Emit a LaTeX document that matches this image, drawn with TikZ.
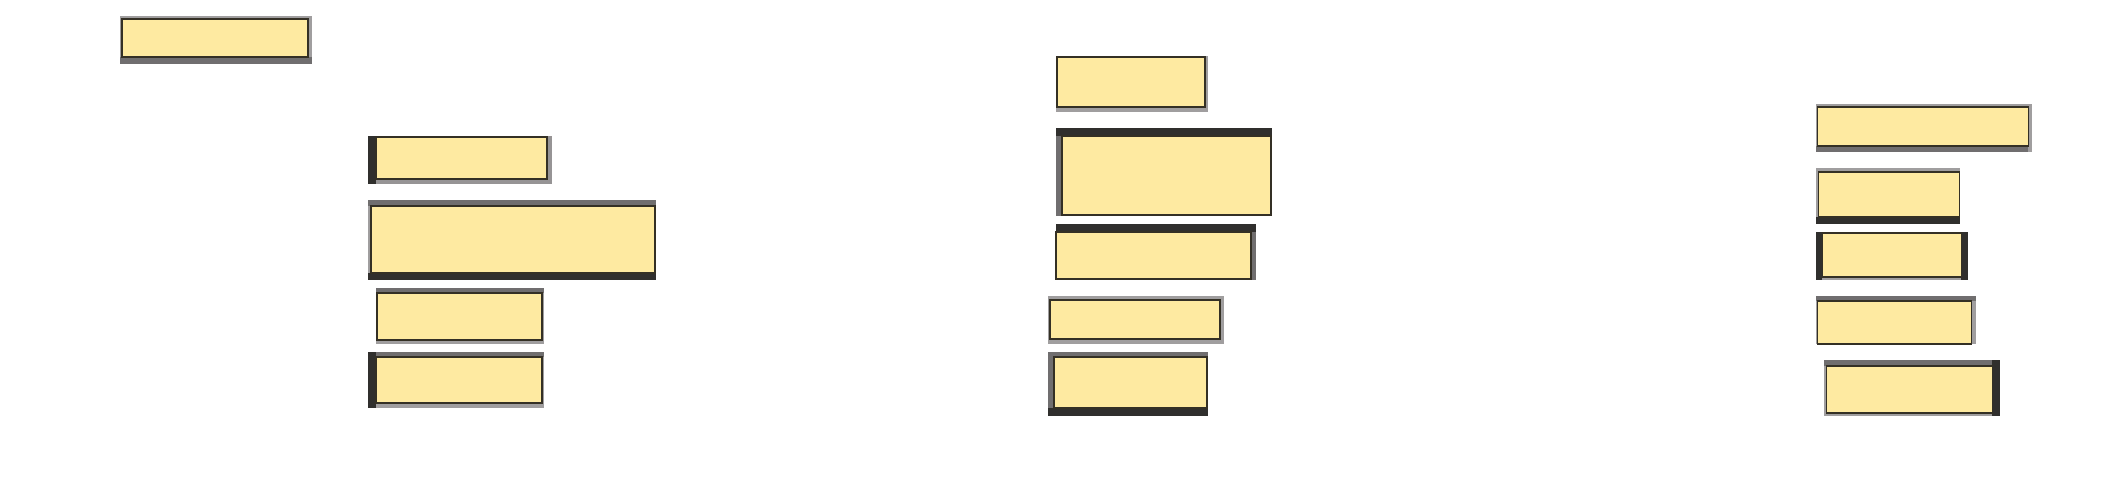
\documentclass[tikz,border=0pt]{standalone}
\usetikzlibrary{fit}
\definecolor{cardfill}{RGB}{255,234,162}
\definecolor{cardline}{RGB}{52,48,38}
\definecolor{rimdark}{RGB}{48,47,46}
\definecolor{rimmid}{RGB}{112,110,110}
\definecolor{rimlight}{RGB}{160,158,158}
\tikzset{
  card/.style={draw=cardline, line width=0.6pt, fill=cardfill, inner sep=0pt},
  dark/.style={fill=rimdark},
  mid/.style={fill=rimmid},
  light/.style={fill=rimlight}
}
\begin{document}
\begin{tikzpicture}[x=0.02cm, y=-0.02cm]
    % --- Canvas ---
    \fill[white] (0,0) rectangle (2118,488);
    \useasboundingbox (0,0) rectangle (2118,488);

    % --- Top left ---
    \fill[light] (120,16) rectangle (312,64);
    \fill[mid] (120,57) rectangle (312,64);
    \node[card, fit={(122,19) (308,57)}] (head) {};

    % --- Left column ---
    % 1
    \fill[rimlight!80!rimmid] (368,136) rectangle (552,184);
    \fill[dark] (368,136) rectangle (376,184);
    \node[card, fit={(376,137) (547,179)}] (l1) {};
    % 2
    \fill[light] (368,200) rectangle (656,280);
    \fill[mid] (368,200) rectangle (656,206);
    \fill[dark] (368,273) rectangle (656,280);
    \node[card, fit={(371,206) (655,273)}] (l2) {};
    % 3
    \fill[light] (376,288) rectangle (544,344);
    \fill[mid] (376,288) rectangle (544,293);
    \node[card, fit={(377,293) (542,340)}] (l3) {};
    % 4
    \fill[light] (368,352) rectangle (544,408);
    \fill[mid] (368,352) rectangle (544,357);
    \fill[dark] (368,352) rectangle (376,408);
    \node[card, fit={(376,357) (542,403)}] (l4) {};

    % --- Middle column ---
    % 1
    \fill[light] (1056,56) rectangle (1208,112);
    \node[card, fit={(1057,57) (1205,107)}] (m1) {};
    % 2
    \fill[mid] (1056,128) rectangle (1272,216);
    \fill[dark] (1056,128) rectangle (1272,136);
    \node[card, fit={(1062,136) (1271,215)}] (m2) {};
    % 3
    \fill[mid] (1056,224) rectangle (1256,280);
    \fill[dark] (1056,224) rectangle (1256,232);
    \node[card, fit={(1056,232) (1251,279)}] (m3) {};
    % 4
    \fill[light] (1048,296) rectangle (1224,344);
    \node[card, fit={(1050,300) (1220,339)}] (m4) {};
    % 5
    \fill[mid] (1048,352) rectangle (1208,416);
    \fill[dark] (1048,408) rectangle (1208,416);
    \node[card, fit={(1054,357) (1207,408)}] (m5) {};

    % --- Right column ---
    % 1
    \fill[light] (1816,104) rectangle (2032,152);
    \fill[mid] (1816,146) rectangle (2028,152);
    \node[card, fit={(1817,107) (2028,146)}] (r1) {};
    % 2
    \fill[light] (1816,168) rectangle (1960,224);
    \fill[dark] (1816,217) rectangle (1960,224);
    \node[card, fit={(1818,172) (1959,217)}] (r2) {};
    % 3
    \fill[light] (1816,232) rectangle (1968,280);
    \fill[dark] (1816,232) rectangle (1822,280);
    \fill[dark] (1961,232) rectangle (1968,280);
    \node[card, fit={(1822,233) (1961,277)}] (r3) {};
    % 4
    \fill[light] (1816,296) rectangle (1976,344);
    \fill[mid] (1816,296) rectangle (1976,301);
    \node[card, fit={(1817,301) (1971,344)}] (r4) {};
    % 5
    \fill[light] (1824,360) rectangle (2000,416);
    \fill[mid] (1824,360) rectangle (2000,366);
    \fill[dark] (1992,360) rectangle (2000,416);
    \node[card, fit={(1826,366) (1992,413)}] (r5) {};
\end{tikzpicture}
\end{document}
